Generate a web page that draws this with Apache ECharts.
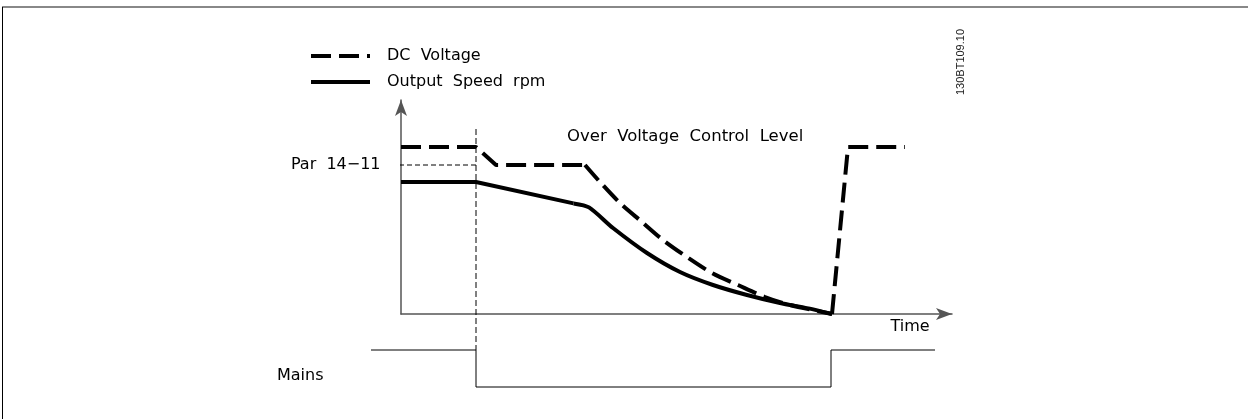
<!DOCTYPE html>
<html>
<head>
<meta charset="utf-8">
<script src="https://cdn.jsdelivr.net/npm/echarts@6/dist/echarts.min.js"></script>
<style>
  html, body { margin: 0; padding: 0; background: #fff; }
  #chart { width: 1248px; height: 419px; }
</style>
</head>
<body>
<div id="chart"></div>
<script>
// Time runs along x in arbitrary units; DC voltage and speed share the y scale.
// DC link voltage: held, clamped to the control level, decaying, then recovering.
const dcHold = [[0, 83.5], [15, 83.5], [19, 74.5], [36.8, 74.5]];
const dcDecline = [
  [36.8, 74.5], [39.8, 66], [43.8, 55.5], [48.2, 46], [52.4, 37], [57.2, 28.5],
  [62.2, 20.5], [67.4, 14.5], [72.8, 8.5], [77.8, 4.5], [86.2, 0]
];
const dcRecover = [[86.2, 0], [89.4, 83.5], [100.8, 83.5]];
// Output speed: steady, ramping down, then decaying to standstill
const speedRamp = [[0, 66], [15, 66], [34.5, 55.3]];
const speedDecline = [
  [34.5, 55.3], [37.6, 53.3], [42.4, 43], [49.2, 30.5], [55.8, 21],
  [62.4, 14.5], [69.2, 9.5], [75.8, 5.5], [81.5, 2.8], [86.2, 0]
];
// Over-voltage control level (Par 14-11) and the moment mains is lost
const parLevel = [[-3.6, 74.5], [15, 74.5]];
const mainsLossMarker = [[15, 92.5], [15, -18]];
// Mains present (1) / absent (0)
const mains = [[-6, 1], [15, 1], [15, 0], [86, 0], [86, 1], [106.8, 1]];

const seriesNames = ['DC Voltage', 'Output Speed rpm'];
const legendLabels = { 'DC Voltage': 'DC  Voltage', 'Output Speed rpm': 'Output  Speed  rpm' };
const parLabel = 'Par  14\u221211';

const FONT = '"DejaVu Sans", sans-serif';
const axisColor = '#555';
const dcDash = [20, 8];

const chart = echarts.init(document.getElementById('chart'), null, { renderer: 'canvas' });

const hiddenAxis = {
  axisLine: { show: false }, axisTick: { show: false },
  axisLabel: { show: false }, splitLine: { show: false }
};
const arrowAxis = {
  axisLine: {
    show: true, onZero: false, symbol: ['none', 'arrow'], symbolSize: [9, 16],
    lineStyle: { color: axisColor, width: 1.5 }
  },
  axisTick: { show: false }, axisLabel: { show: false }, splitLine: { show: false }
};

function thickLine(name, data, dashed, smooth) {
  return {
    name: name, type: 'line', xAxisIndex: 0, yAxisIndex: 0,
    data: data, symbol: 'none', clip: false, smooth: smooth,
    lineStyle: { color: '#000', width: 4, type: dashed ? dcDash : 'solid' },
    itemStyle: { color: '#000' }
  };
}

chart.setOption({
  animation: false,
  backgroundColor: '#fff',
  legend: {
    data: seriesNames,
    orient: 'vertical',
    left: 309,
    top: 48,
    padding: 0,
    itemWidth: 59,
    itemHeight: 14,
    itemGap: 10,
    selectedMode: false,
    itemStyle: { color: 'rgba(0,0,0,0)', borderWidth: 0 },
    lineStyle: { width: 4 },
    formatter: (n) => legendLabels[n],
    textStyle: { fontFamily: FONT, fontSize: 16, color: '#000', padding: [0, 0, 0, 12] }
  },
  grid: [
    { left: 401, top: 100, width: 551, height: 214 },
    { left: 371, top: 350, width: 581, height: 37 }
  ],
  xAxis: [
    Object.assign({ type: 'value', gridIndex: 0, min: 0, max: 110.2 }, arrowAxis),
    Object.assign({ type: 'value', gridIndex: 1, min: -6, max: 110.2 }, hiddenAxis)
  ],
  yAxis: [
    Object.assign({ type: 'value', gridIndex: 0, min: 0, max: 107 }, arrowAxis),
    Object.assign({ type: 'value', gridIndex: 1, min: 0, max: 1 }, hiddenAxis)
  ],
  series: [
    thickLine(seriesNames[0], dcHold, true, false),
    thickLine(seriesNames[0], dcDecline, true, 0.3),
    thickLine(seriesNames[0], dcRecover, true, false),
    thickLine(seriesNames[1], speedRamp, false, false),
    thickLine(seriesNames[1], speedDecline, false, 0.25),
    {
      name: 'par', type: 'line', xAxisIndex: 0, yAxisIndex: 0, clip: false,
      symbol: 'circle', symbolSize: 1, showSymbol: true,
      itemStyle: { color: 'rgba(0,0,0,0)' },
      lineStyle: { color: '#000', width: 1, type: [5, 3] },
      data: parLevel.map((p, i) => i === 0 ? {
        value: p,
        label: {
          show: true, position: 'left', distance: 2, formatter: parLabel,
          fontFamily: FONT, fontSize: 16, color: '#000'
        }
      } : { value: p })
    },
    {
      name: 'marker', type: 'line', xAxisIndex: 0, yAxisIndex: 0, clip: false,
      symbol: 'none', data: mainsLossMarker,
      lineStyle: { color: '#000', width: 1, type: [6, 3] }
    },
    {
      name: 'Mains', type: 'line', xAxisIndex: 1, yAxisIndex: 1, clip: false,
      symbol: 'none', data: mains,
      lineStyle: { color: '#000', width: 1 }
    }
  ],
  graphic: [
    { type: 'line', silent: true, shape: { x1: 2, y1: 7, x2: 1248, y2: 7 },
      style: { stroke: '#888', lineWidth: 2 } },
    { type: 'line', silent: true, shape: { x1: 2.5, y1: 7, x2: 2.5, y2: 419 },
      style: { stroke: '#000', lineWidth: 1 } },
    { type: 'text', silent: true, x: 567, y: 137,
      style: { text: 'Over  Voltage  Control  Level', font: '16.5px ' + FONT, fill: '#000',
               textAlign: 'left', textVerticalAlign: 'middle' } },
    { type: 'text', silent: true, x: 910, y: 327,
      style: { text: 'Time', font: '16px ' + FONT, fill: '#000',
               textAlign: 'center', textVerticalAlign: 'middle' } },
    { type: 'text', silent: true, x: 277, y: 376,
      style: { text: 'Mains', font: '16px ' + FONT, fill: '#000',
               textAlign: 'left', textVerticalAlign: 'middle' } },
    { type: 'text', silent: true, x: 961, y: 62, rotation: Math.PI / 2,
      style: { text: '130BT109.10', font: '11px "Liberation Sans", Arial, sans-serif', fill: '#222',
               textAlign: 'center', textVerticalAlign: 'middle' } }
  ]
});
</script>
</body>
</html>
